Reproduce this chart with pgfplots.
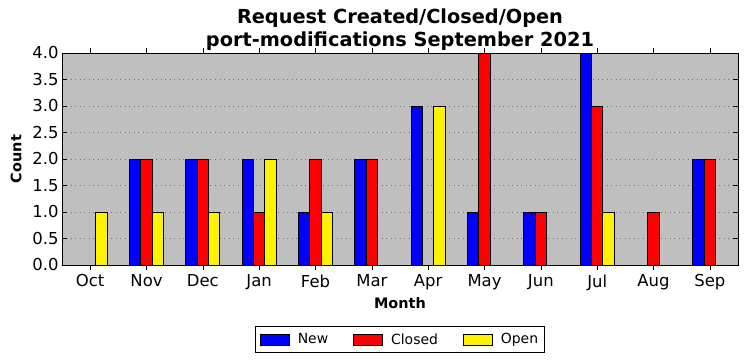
\documentclass[border=0pt]{standalone}
\usepackage{fontspec}
\setmainfont{DejaVu Sans}
\usepackage{pgfplots}
\pgfplotsset{compat=1.18}
\definecolor{bgc}{RGB}{191,191,191}
\pgfplotstableread{
x new closed open
0 0 0 1
1 2 2 1
2 2 2 1
3 2 1 2
4 1 2 1
5 2 2 0
6 3 0 3
7 1 4 0
8 1 1 0
9 4 3 1
10 0 1 0
11 2 2 0
}\datatable
\begin{document}
\begin{tikzpicture}
\begin{axis}[
  scale only axis, width=676bp, height=212bp,
  xmin=-0.5, xmax=11.5, ymin=0, ymax=4,
  xtick={0,...,11},
  xticklabels={Oct,Nov,Dec,Jan,Feb,Mar,Apr,May,Jun,Jul,Aug,Sep},
  ytick={0,0.5,...,4},
  yticklabel style={/pgf/number format/.cd, fixed, fixed zerofill, precision=1},
  /pgf/number format/assume math mode=true,
  tick label style={font=\fontsize{16.5}{18}\selectfont},
  xticklabel style={yshift=-1bp},
  axis background/.style={fill=bgc},
  ymajorgrids, grid style={dash pattern=on 1bp off 3.5bp, black!55, line width=0.6pt},
  tick align=inside, xtick pos=both, ytick pos=both,
  major tick length=5bp,
  tick style={black, line width=0.6pt},
  axis line style={black, line width=0.9pt},
  ybar=0pt, bar width=11.3bp,
  title={Request Created/Closed/Open\\port-modifications September 2021},
  title style={font=\bfseries\fontsize{19.4}{23}\selectfont, align=center, yshift=-7bp},
  xlabel={Month}, ylabel={Count},
  label style={font=\bfseries\fontsize{14.5}{16}\selectfont},
  xlabel style={at={(axis description cs:0.5,-0.179)}, anchor=center},
  ylabel style={at={(axis description cs:-0.068,0.5)}, anchor=center},
  legend style={at={(0.5,-0.288)}, anchor=north, legend columns=3,
    font=\fontsize{14}{16}\selectfont, draw=black, line width=0.9pt,
    inner xsep=4bp, inner ysep=5bp,
    /tikz/every odd column/.append style={column sep=6bp},
    /tikz/every even column/.append style={column sep=23bp}},
  legend cell align=left,
  mylegend/.style={legend image code/.code={\draw[##1, line width=0.9pt] (0bp,-5.5bp) rectangle (29bp,5.5bp);}},
]
\addplot[fill=blue, draw=black, line width=0.9pt, mylegend] table[x=x,y=new] {\datatable};
\addplot[fill=red, draw=black, line width=0.9pt, mylegend] table[x=x,y=closed] {\datatable};
\addplot[fill=yellow, draw=black, line width=0.9pt, mylegend] table[x=x,y=open] {\datatable};
\legend{New,Closed,Open}
\end{axis}
\pgfresetboundingbox
\path[use as bounding box] (-62bp,-96bp) rectangle (685bp,265bp);
\end{tikzpicture}
\end{document}
